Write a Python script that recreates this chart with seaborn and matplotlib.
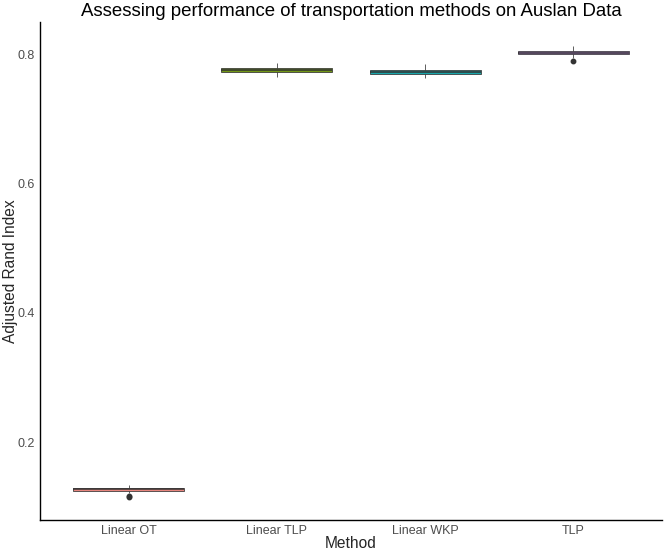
import pandas as pd
import matplotlib
matplotlib.use('Agg')
import matplotlib.pyplot as plt
import seaborn as sns

# 方法名称和各方法的 ARI 取值
methods = ['Linear OT', 'Linear TLP', 'Linear WKP', 'TLP']
ari_linear_ot = [0.1150, 0.1165, 0.1215, 0.1255, 0.1260, 0.1265, 0.1270, 0.1275, 0.1280, 0.1285, 0.1290, 0.1330]
ari_linear_tlp = [0.7650, 0.7690, 0.7712, 0.7730, 0.7750, 0.7760, 0.7780, 0.7792, 0.7810, 0.7855]
ari_linear_wkp = [0.7625, 0.7660, 0.7682, 0.7700, 0.7720, 0.7732, 0.7750, 0.7762, 0.7780, 0.7840]
ari_tlp = [0.7895, 0.7935, 0.7990, 0.8000, 0.8015, 0.8025, 0.8040, 0.8050, 0.8060, 0.8125]
colors = ['#F8766D', '#7CAE00', '#00BFC4', '#C77CFF']

# 转成长格式
rows = []
for m, vals in zip(methods, [ari_linear_ot, ari_linear_tlp, ari_linear_wkp, ari_tlp]):
    for v in vals:
        rows.append({'Method': m, 'ARI': v})
df = pd.DataFrame(rows)

sns.set_style('white')
plt.rcParams['font.family'] = ['Liberation Sans', 'DejaVu Sans']

fig = plt.figure(figsize=(6.64, 5.54), dpi=100)
ax = fig.add_axes([40 / 664, 34 / 554, 622 / 664, 498 / 554])

sns.boxplot(data=df, x='Method', y='ARI', hue='Method', palette=colors, order=methods,
            width=0.75, linewidth=0.55, linecolor='#333333', showcaps=False, legend=False,
            medianprops=dict(linewidth=1.1, color='#333333'),
            flierprops=dict(marker='o', markerfacecolor='#333333', markeredgecolor='#333333',
                            markersize=3.2),
            ax=ax)

ax.set_xlim(-0.6, 3.6)
ax.set_ylim(0.0794, 0.8495)
ax.set_yticks([0.2, 0.4, 0.6, 0.8])
ax.set_yticklabels(['0.2', '0.4', '0.6', '0.8'])

for side in ['top', 'right']:
    ax.spines[side].set_visible(False)
for side in ['left', 'bottom']:
    ax.spines[side].set_color('black')
    ax.spines[side].set_linewidth(1.0)

ax.tick_params(axis='both', length=2.8, width=1.0, color='#333333',
               labelcolor='#4D4D4D', labelsize=9.0, pad=1.0)

fig.text(351 / 664, 1 - 12 / 554, 'Assessing performance of transportation methods on Auslan Data',
         fontsize=13.4, color='black', ha='center', va='center')
ax.set_xlabel('Method', fontsize=11.2)
ax.set_ylabel('Adjusted Rand Index', fontsize=11.2)
ax.xaxis.set_label_coords(0.5, -24 / 498)
ax.yaxis.set_label_coords(-30 / 622, 0.5)
ax.xaxis.label.set_va('center')
ax.yaxis.label.set_va('center')

fig.savefig('out.png', dpi=100)
